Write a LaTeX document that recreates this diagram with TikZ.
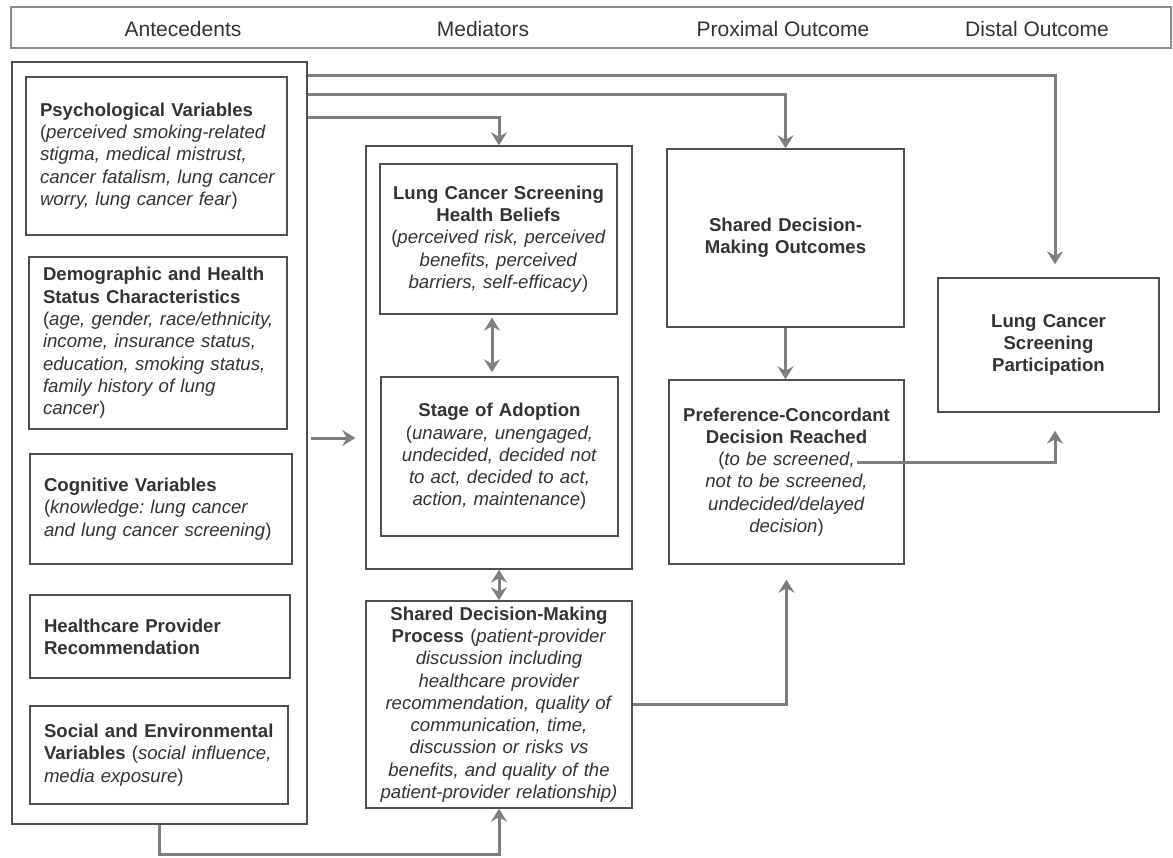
\documentclass[tikz,border=0pt]{standalone}
\usepackage{fontspec}
\setmainfont{Liberation Sans}
\usetikzlibrary{arrows.meta}
\definecolor{arrowgray}{HTML}{7E7E7E}
\definecolor{boxgray}{HTML}{4F4F4F}
\definecolor{txtgray}{HTML}{333333}
\definecolor{headgray}{HTML}{8C8C8C}
\newcommand\oneline[1]{\mbox{#1}}
\frenchspacing
\begin{document}
\begin{tikzpicture}[x=1pt,y=-1pt,
  box/.style={draw=boxgray, line width=1.4pt, rectangle, inner sep=0pt, text=txtgray,
     font=\fontsize{18.6}{22.3}\selectfont},
  lbox/.style={box, align=left, text width=#1},
  cbox/.style={box, align=center, text width=#1},
  arr/.style={draw=arrowgray, line width=3pt, -{Stealth[length=13pt,width=16pt,inset=4.5pt]}},
  arrboth/.style={draw=arrowgray, line width=3pt, {Stealth[length=13pt,width=16pt,inset=4.5pt]}-{Stealth[length=13pt,width=16pt,inset=4.5pt]}},
  head/.style={text=txtgray, font=\fontsize{21}{25}\selectfont}
]
\useasboundingbox (0,0) rectangle (1173,857);

% header
\node[draw=headgray, line width=2.2pt, minimum width=1160pt, minimum height=41pt, inner sep=0pt] (header) at (591,27.5) {};
\node[head] (h1) at (183,29) {Antecedents};
\node[head] (h2) at (483,29) {Mediators};
\node[head] (h3) at (783,29) {Proximal Outcome};
\node[head] (h4) at (1037,29) {Distal Outcome};

% antecedents
\node[box, minimum width=295pt, minimum height=762pt] (ante) at (159.5,443) {};
\node[lbox=233pt, minimum width=261pt, minimum height=158pt] (psych) at (156.5,156)
 {\oneline{\textbf{Psychological Variables}}\\\oneline{(\textit{perceived smoking-related}}\\\oneline{\textit{stigma, medical mistrust,}}\\\oneline{\textit{cancer fatalism, lung cancer}}\\\oneline{\textit{worry, lung cancer fear})}};
\node[lbox=230pt, minimum width=258pt, minimum height=172pt] (demo) at (158,343)
 {\oneline{\textbf{Demographic and Health}}\\\oneline{\textbf{Status Characteristics}}\\\oneline{(\textit{age, gender, race/ethnicity,}}\\\oneline{\textit{income, insurance status,}}\\\oneline{\textit{education, smoking status,}}\\\oneline{\textit{family history of lung}}\\\oneline{\textit{cancer})}};
\node[lbox=234pt, minimum width=262pt, minimum height=110pt] (cog) at (161,509)
 {\oneline{\textbf{Cognitive Variables}}\\\oneline{(\textit{knowledge: lung cancer}}\\\oneline{\textit{and lung cancer screening})}};
\node[lbox=232pt, minimum width=260pt, minimum height=83pt] (hcp) at (160,636.5)
 {\oneline{\textbf{Healthcare Provider}}\\\oneline{\textbf{Recommendation}}};
\node[lbox=230pt, minimum width=258pt, minimum height=98pt] (soc) at (159,755)
 {\oneline{\textbf{Social and Environmental}}\\\oneline{\textbf{Variables} (\textit{social influence,}}\\\oneline{\textit{media exposure})}};

% mediators
\node[box, minimum width=266pt, minimum height=423pt] (med) at (499,357.5) {};
\node[cbox=237pt, minimum width=237pt, minimum height=150pt] (beliefs) at (498.5,239)
 {\textbf{Lung Cancer Screening}\\\textbf{Health Beliefs}\\(\textit{perceived risk, perceived}\\\textit{benefits, perceived}\\\textit{barriers, self-efficacy})};
\node[cbox=237pt, minimum width=237pt, minimum height=159pt] (stage) at (499.5,456.5)
 {\textbf{Stage of Adoption}\\(\textit{unaware, unengaged,}\\\textit{undecided, decided not}\\\textit{to act, decided to act,}\\\textit{action, maintenance})};
\node[cbox=266pt, minimum width=266pt, minimum height=207pt] (sdmp) at (499,704.5)
 {\textbf{Shared Decision-Making}\\\textbf{Process} (\textit{patient-provider}\\\textit{discussion including}\\\textit{healthcare provider}\\\textit{recommendation, quality of}\\\textit{communication, time,}\\\textit{discussion or risks vs}\\\textit{benefits, and quality of the}\\\textit{patient-provider relationship)}};

% proximal
\node[cbox=237pt, minimum width=237pt, minimum height=178pt] (sdmo) at (785.5,238)
 {\textbf{Shared Decision-}\\\textbf{Making Outcomes}};
\node[cbox=235pt, minimum width=235pt, minimum height=184pt] (pref) at (786.5,472)
 {\textbf{Preference-Concordant}\\\textbf{Decision Reached}\\(\textit{to be screened,}\\\textit{not to be screened,}\\\textit{undecided/delayed}\\\textit{decision})};

% distal
\node[cbox=221pt, minimum width=221pt, minimum height=134pt] (lcsp) at (1048.5,345)
 {\textbf{Lung Cancer}\\\textbf{Screening}\\\textbf{Participation}};

% connectors
\coordinate (a1) at ([yshift=-14pt]ante.north east);
\coordinate (a2) at ([yshift=-33pt]ante.north east);
\coordinate (a3) at ([yshift=-56pt]ante.north east);
\coordinate (a4) at ([xshift=3pt,yshift=5pt]ante.east);
\coordinate (prefout) at (857,462);
\coordinate (lcspin) at ([xshift=6.5pt]lcsp.north);
\coordinate (lcspin2) at ([xshift=6.5pt]lcsp.south);

\draw[arr, shorten >=13pt] (a1) -| (lcspin);
\draw[arr] (a2) -| (sdmo.north);
\draw[arr] (a3) -| (med.north);
\draw[arr, shorten >=10pt] (a4) -- (a4 -| med.west);
\draw[arrboth, shorten <=3pt, shorten >=4pt] ([xshift=-6.5pt]beliefs.south) -- ([xshift=-7.5pt]stage.north);
\draw[arrboth] (med.south) -- (sdmp.north);
\draw[arr] (ante.south) -- ++(0,30) -| (sdmp.south);
\draw[arr, shorten >=15pt] (sdmp.east) -| (pref.south);
\draw[arr] (sdmo.south) -- (sdmo.south |- pref.north);
\draw[arr, shorten >=18pt] (prefout) -| (lcspin2);
\end{tikzpicture}
\end{document}
